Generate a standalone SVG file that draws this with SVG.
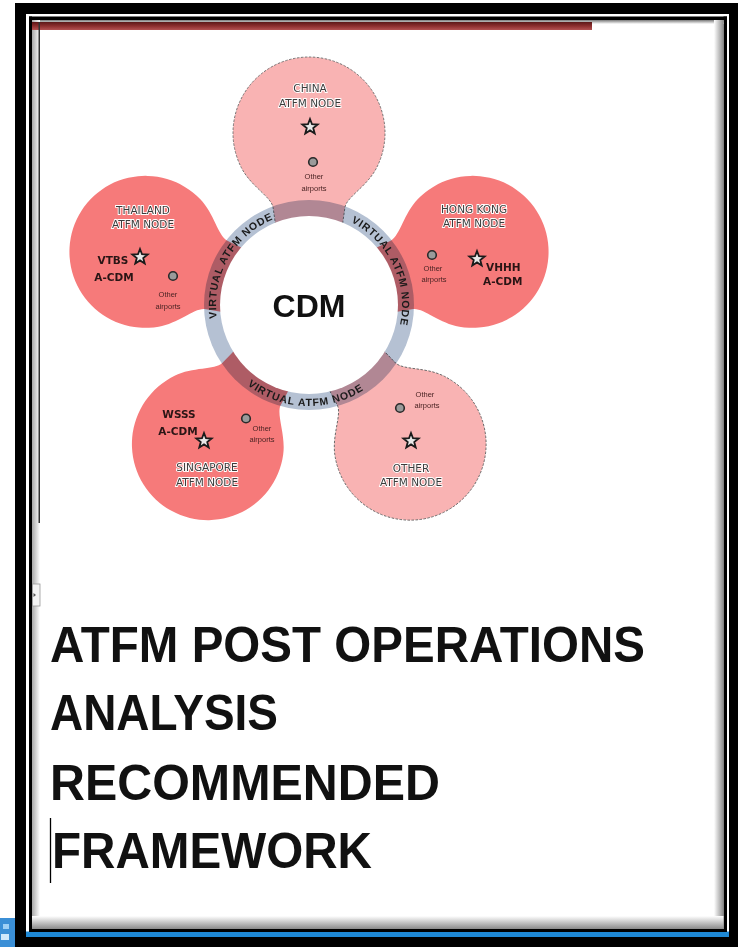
<svg xmlns="http://www.w3.org/2000/svg" xmlns:xlink="http://www.w3.org/1999/xlink" width="738" height="947" viewBox="0 0 738 947">
<style>
.lbl{font-family:"DejaVu Sans",sans-serif;font-size:10.5px;fill:#3b3b3b;stroke:#ffffff;stroke-width:1.8px;paint-order:stroke;text-anchor:middle}
.apt{font-family:"Liberation Sans",sans-serif;font-size:7.5px;fill:#4a2323;text-anchor:middle}
.code{font-family:"DejaVu Sans",sans-serif;font-weight:bold;font-size:10.5px;fill:#2a1515}
.ring{font-family:"Liberation Sans",sans-serif;font-weight:bold;font-size:10.5px;fill:#1a1a1a}
.title{font-family:"Liberation Sans",sans-serif;font-weight:bold;font-size:50px;fill:#111111}
.petal{mix-blend-mode:multiply}
.dark{fill:#f67a7a}
.light{fill:#f9b3b3;stroke:#6a6a6a;stroke-width:0.9;stroke-dasharray:2.5 1.5}
</style>
<defs>
<path id="petalShape" d="M 32 -70 L 36 -98 C 38 -108 57.7 -118.6 67.1 -136.3 A 76 76 0 1 0 -67.1 -136.3 C -57.7 -118.6 -38 -108 -36 -98 L -32 -70 Z"/>
<polygon id="star" points="0,-8 2,-2.75 7.61,-2.47 3.23,1.05 4.7,6.47 0,3.4 -4.7,6.47 -3.23,1.05 -7.61,-2.47 -2,-2.75" fill="#e8e8e8" stroke="#1a1a1a" stroke-width="1.8" stroke-linejoin="miter"/>
<circle id="airport" r="4.3" fill="#9a9a9a" stroke="#2a2a2a" stroke-width="1.6"/>
<path id="arcUL" d="M 228.87 352.2 A 93 93 0 0 1 308.19 212"/>
<path id="arcUR" d="M 316.3 212.29 A 93 93 0 0 1 385.64 357.67"/>
<path id="arcB" d="M 219.41 351.63 A 101 101 0 0 0 394.18 359.27"/>
<linearGradient id="gL" x1="0" y1="0" x2="1" y2="0"><stop offset="0" stop-color="#a8a8a8"/><stop offset="1" stop-color="#ffffff"/></linearGradient>
<linearGradient id="gR" x1="0" y1="0" x2="1" y2="0"><stop offset="0" stop-color="#ffffff"/><stop offset="1" stop-color="#8a8a8a"/></linearGradient>
<linearGradient id="gB" x1="0" y1="0" x2="0" y2="1"><stop offset="0" stop-color="#ffffff"/><stop offset="1" stop-color="#8a8a8a"/></linearGradient>
<linearGradient id="gT" x1="0" y1="0" x2="0" y2="1"><stop offset="0" stop-color="#7a7a7a"/><stop offset="1" stop-color="#ffffff"/></linearGradient>
<linearGradient id="gRed" x1="0" y1="0" x2="0" y2="1"><stop offset="0" stop-color="#5c1818"/><stop offset="0.5" stop-color="#8c2e2e"/><stop offset="1" stop-color="#b35252"/></linearGradient>
</defs>

<g id="frame">
<rect x="0" y="0" width="738" height="947" fill="#ffffff"/>
<rect x="0" y="918" width="15" height="29" fill="#3b8fd6"/>
<rect x="3" y="924" width="6" height="5" fill="#9fd0f5"/>
<rect x="1" y="934" width="8" height="6" fill="#cfe8fb"/>
<rect x="15" y="3" width="723" height="11" fill="#000"/>
<rect x="15" y="3" width="11" height="944" fill="#000"/>
<rect x="729" y="3" width="9" height="944" fill="#000"/>
<rect x="15" y="937" width="723" height="10" fill="#000"/>
<rect x="26" y="931.5" width="703" height="5.5" fill="#1e88d4"/>
<rect x="29" y="16.5" width="698" height="3.5" fill="#000"/>
<rect x="29" y="16.5" width="3" height="915" fill="#000"/>
<rect x="723.5" y="16.5" width="3.5" height="915" fill="#000"/>
<rect x="29" y="929" width="698" height="3" fill="#000"/>
<rect x="32" y="20" width="691.5" height="4" fill="url(#gT)"/>
<rect x="32" y="20" width="8" height="909" fill="url(#gL)"/>
<rect x="714" y="20" width="9.5" height="909" fill="url(#gR)"/>
<rect x="32" y="916" width="691.5" height="13" fill="url(#gB)"/>
<rect x="32" y="22" width="560" height="8" fill="url(#gRed)"/>
<rect x="38.5" y="22" width="1.5" height="501" fill="#333"/>
<rect x="32.5" y="584" width="7.5" height="22" fill="#f2f2f2" stroke="#9a9a9a" stroke-width="0.8"/>
<polygon points="33.5,593 36,595 33.5,597" fill="#555"/>
<line x1="50.5" y1="818" x2="50.5" y2="883" stroke="#000" stroke-width="1.3"/>
</g>

<g id="connectors"/>

<g id="ring-base">
<circle cx="309" cy="305" r="105" fill="#b5c1d3"/>
</g>

<g id="petals">
<use href="#petalShape" class="petal light" transform="translate(309 305)"/>
<use href="#petalShape" class="petal dark" transform="translate(309 305) rotate(72)"/>
<use href="#petalShape" class="petal light" transform="translate(309 305) rotate(144)"/>
<use href="#petalShape" class="petal dark" transform="translate(309 305) rotate(216)"/>
<use href="#petalShape" class="petal dark" transform="translate(309 305) rotate(288)"/>
</g>

<g id="cdm">
<circle cx="309" cy="305" r="89" fill="#ffffff"/>
<text class="ring"><textPath href="#arcUL" startOffset="50%" text-anchor="middle" textLength="122" lengthAdjust="spacing">VIRTUAL ATFM NODE</textPath></text>
<text class="ring"><textPath href="#arcUR" startOffset="50%" text-anchor="middle" textLength="122" lengthAdjust="spacing">VIRTUAL ATFM NODE</textPath></text>
<text class="ring"><textPath href="#arcB" startOffset="50%" text-anchor="middle" textLength="124" lengthAdjust="spacing">VIRTUAL ATFM NODE</textPath></text>
<text x="309" y="317" font-family="Liberation Sans, sans-serif" font-weight="bold" font-size="32" fill="#111" text-anchor="middle">CDM</text>
</g>

<g id="node-china">
<text class="lbl" x="310" y="91.5">CHINA</text>
<text class="lbl" x="310" y="106.5">ATFM NODE</text>
<use href="#star" x="310" y="127"/>
<use href="#airport" x="313" y="162"/>
<text class="apt" x="314" y="178.5">Other</text>
<text class="apt" x="314" y="190.5">airports</text>
</g>

<g id="node-thailand">
<text class="lbl" x="143" y="214">THAILAND</text>
<text class="lbl" x="143" y="227.5">ATFM NODE</text>
<text class="code" x="113" y="264" text-anchor="middle">VTBS</text>
<text class="code" x="114" y="280.5" text-anchor="middle">A-CDM</text>
<use href="#star" x="140" y="257"/>
<use href="#airport" x="173" y="276"/>
<text class="apt" x="168" y="296.5">Other</text>
<text class="apt" x="168" y="308.5">airports</text>
</g>

<g id="node-hongkong">
<text class="lbl" x="474" y="213">HONG  KONG</text>
<text class="lbl" x="474" y="227">ATFM NODE</text>
<use href="#airport" x="432" y="255"/>
<text class="apt" x="433" y="270.5">Other</text>
<text class="apt" x="434" y="282">airports</text>
<use href="#star" x="477" y="259"/>
<text class="code" x="486" y="271">VHHH</text>
<text class="code" x="483" y="284.5">A-CDM</text>
</g>

<g id="node-singapore">
<text class="code" x="179" y="418" text-anchor="middle">WSSS</text>
<text class="code" x="178" y="435" text-anchor="middle">A-CDM</text>
<use href="#star" x="204" y="441"/>
<use href="#airport" x="246" y="418.5"/>
<text class="apt" x="262" y="430.5">Other</text>
<text class="apt" x="262" y="441.5">airports</text>
<text class="lbl" x="207" y="471">SINGAPORE</text>
<text class="lbl" x="207" y="486">ATFM NODE</text>
</g>

<g id="node-other">
<text class="apt" x="425" y="396.5">Other</text>
<text class="apt" x="427" y="407.5">airports</text>
<use href="#airport" x="400" y="408"/>
<use href="#star" x="411" y="441"/>
<text class="lbl" x="411" y="471.5">OTHER</text>
<text class="lbl" x="411" y="485.5">ATFM NODE</text>
</g>

<g id="title">
<text class="title" x="50" y="662" textLength="595" lengthAdjust="spacingAndGlyphs">ATFM POST OPERATIONS</text>
<text class="title" x="50" y="730" textLength="228" lengthAdjust="spacingAndGlyphs">ANALYSIS</text>
<text class="title" x="50" y="800" textLength="390" lengthAdjust="spacingAndGlyphs">RECOMMENDED</text>
<text class="title" x="52" y="868" textLength="320" lengthAdjust="spacingAndGlyphs">FRAMEWORK</text>
</g>
</svg>
